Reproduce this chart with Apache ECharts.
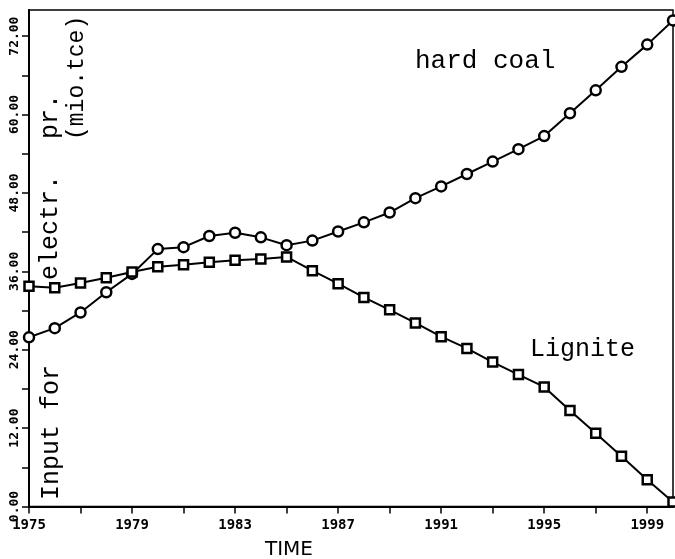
<!DOCTYPE html>
<html>
<head>
<meta charset="utf-8">
<script src="https://cdn.jsdelivr.net/npm/echarts@6/dist/echarts.min.js"></script>
<style>
html,body{margin:0;padding:0;background:#fff;}
#chart{width:675px;height:559px;}
</style>
</head>
<body>
<div id="chart"></div>
<script>
// ---- data ----
var years = [1975,1976,1977,1978,1979,1980,1981,1982,1983,1984,1985,1986,1987,
             1988,1989,1990,1991,1992,1993,1994,1995,1996,1997,1998,1999,2000];
var hardCoal = [25.9,27.3,29.7,32.8,35.6,39.4,39.7,41.4,41.9,41.2,40.0,40.7,42.1,
                43.5,45.0,47.2,49.0,50.9,52.8,54.7,56.7,60.2,63.7,67.3,70.7,74.4];
var lignite  = [33.7,33.5,34.2,35.0,35.9,36.7,37.0,37.4,37.7,37.9,38.2,36.1,34.1,
                32.0,30.1,28.1,26.0,24.2,22.1,20.2,18.3,14.7,11.2,7.7,4.1,0.7];
var xTickLabels = [1975,1979,1983,1987,1991,1995,1999];
var xTicks = [1975,1977,1979,1981,1983,1985,1987,1989,1991,1993,1995,1997,1999];
var yTickLabels = [0,12,24,36,48,60,72];
var yTicks = [0,6,12,18,24,30,36,42,48,54,60,66,72];

function pairs(xs, ys){ return xs.map(function(x,i){ return [x, ys[i]]; }); }

var chart = echarts.init(document.getElementById('chart'), null, {renderer:'canvas'});
var tickFont = '"DejaVu Sans Mono", monospace';
var textFont = '"Liberation Mono", "Courier New", monospace';
chart.setOption({
  animation:false,
  backgroundColor:'#fff',
  grid:{left:29, top:10, width:644, height:496.5, show:true, borderColor:'#000', borderWidth:1.5, backgroundColor:'transparent'},
  xAxis:{
    type:'value', min:1975, max:2000,
    axisLine:{show:true, onZero:false, lineStyle:{color:'#000', width:2}},
    axisTick:{show:true, customValues:xTicks, length:7, inside:false, lineStyle:{color:'#000', width:1.5}},
    axisLabel:{customValues:xTickLabels, margin:12, color:'#000', fontFamily:tickFont, fontSize:14, fontWeight:'bold',
               formatter:function(v){ return String(v); }},
    splitLine:{show:false}
  },
  yAxis:{
    type:'value', min:0, max:76,
    axisLine:{show:true, onZero:false, lineStyle:{color:'#000', width:2}},
    axisTick:{show:true, customValues:yTicks, length:7, inside:false, lineStyle:{color:'#000', width:1.5}},
    axisLabel:{customValues:yTickLabels, rotate:90, margin:8, color:'#000', fontFamily:tickFont, fontSize:13, fontWeight:'bold',
               formatter:function(v){ return Number(v).toFixed(2); }},
    splitLine:{show:false}
  },
  series:[
    {type:'line', name:'hard coal', data:pairs(years, hardCoal), clip:false,
     symbol:'circle', symbolSize:10, showAllSymbol:true,
     lineStyle:{color:'#000', width:2}, itemStyle:{color:'#fff', borderColor:'#000', borderWidth:2.5}},
    {type:'line', name:'Lignite', data:pairs(years, lignite), clip:false,
     symbol:'rect', symbolSize:9, showAllSymbol:true,
     lineStyle:{color:'#000', width:2}, itemStyle:{color:'#fff', borderColor:'#000', borderWidth:2.5}}
  ],
  graphic:[
    {type:'text', x:415, y:61, style:{text:'hard coal', font:'26px '+textFont, fill:'#000', align:'left', verticalAlign:'middle'}},
    {type:'text', x:530, y:349, style:{text:'Lignite', font:'25px '+textFont, fill:'#000', align:'left', verticalAlign:'middle'}},
    {type:'text', x:265, y:550, style:{text:'TIME', font:'20px "DejaVu Sans"', fill:'#000', align:'left', verticalAlign:'middle'}},
    {type:'text', x:51.5, y:500, rotation:Math.PI/2, style:{text:'Input for', font:'25px '+textFont, fill:'#000', align:'left', verticalAlign:'middle'}},
    {type:'text', x:50, y:280, rotation:Math.PI/2, style:{text:'electr.', font:'25px '+textFont, fill:'#000', align:'left', verticalAlign:'middle'}},
    {type:'text', x:50, y:139, rotation:Math.PI/2, style:{text:'pr.', font:'25px '+textFont, fill:'#000', align:'left', verticalAlign:'middle'}},
    {type:'text', x:77, y:140, rotation:Math.PI/2, style:{text:'(mio.tce)', font:'23px '+textFont, fill:'#000', align:'left', verticalAlign:'middle'}}
  ]
});
</script>
</body>
</html>
